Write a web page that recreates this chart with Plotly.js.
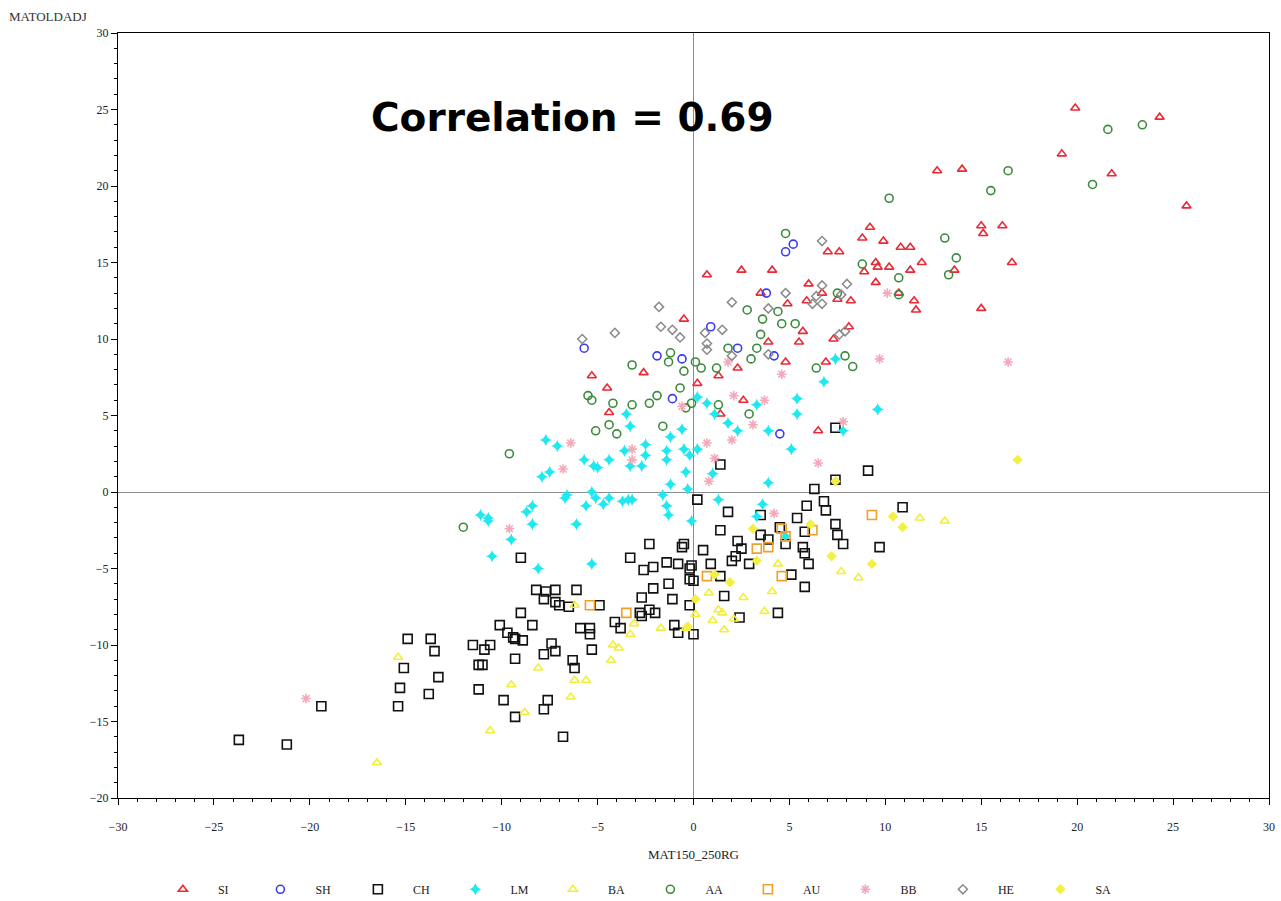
<!DOCTYPE html>
<html>
<head>
<meta charset="utf-8">
<script src="https://cdn.plot.ly/plotly-3.0.1.min.js"></script>
<style>html,body{margin:0;padding:0;background:#fff;}#chart{width:1281px;height:901px;}</style>
</head>
<body>
<div id="chart"></div>
<script>
// ---- Data (MAT150_250RG vs MATOLDADJ by group) ----
const groups = ["SI","SH","CH","LM","BA","AA","AU","BB","HE","SA"];

const siX = [19.9,24.3,19.2,21.8,25.7,12.7,14.0,15.0,16.1,15.1,16.6,15.0,9.2,8.8,9.9,7.0,7.6,10.8,11.3,11.9,11.3,9.5,9.6,10.2,8.9,9.5,13.6,10.7,11.5,11.6,0.7,2.5,4.1,6.0,6.7,4.9,5.9,7.5,8.2,8.1,5.7,5.5,7.3,3.9,4.8,6.9,2.3,1.3,2.6,1.4,6.5,3.5,-0.5,-5.3,-2.6,-4.5,0.2,-4.4];
const siY = [25.1,24.5,22.1,20.8,18.7,21.0,21.1,17.4,17.4,16.9,15.0,12.0,17.3,16.6,16.4,15.7,15.7,16.0,16.0,15.0,14.5,15.0,14.7,14.7,14.4,13.7,14.5,13.0,12.5,11.9,14.2,14.5,14.5,13.6,13.0,12.3,12.5,12.6,12.5,10.8,10.5,9.8,10.0,9.8,8.5,8.5,8.1,7.6,6.0,5.1,4.0,13.0,11.3,7.6,7.8,6.8,7.1,5.2];

const shX = [-5.7,-1.9,-0.6,-1.1,0.9,2.3,4.2,3.8,4.8,5.2,4.5];
const shY = [9.4,8.9,8.7,6.1,10.8,9.4,8.9,13.0,15.7,16.2,3.8];

const chX = [-23.7,-21.2,-19.4,-15.4,-15.3,-15.1,-14.9,-13.7,-13.5,-13.3,-13.8,-11.2,-11.5,-10.9,-10.6,-11.2,-11.0,-10.1,-9.7,-9.4,-9.3,-8.9,-9.0,-9.0,-8.4,-9.3,-9.9,-9.3,-7.8,-7.6,-7.4,-7.2,-7.8,-8.2,-7.7,-7.2,-7.8,-7.2,-7.0,-6.5,-6.1,-5.9,-5.4,-5.4,-5.3,-6.3,-6.2,-6.8,-4.9,-4.1,-3.8,-3.3,-2.6,-2.1,-2.7,-2.8,-2.7,-2.3,-2.0,-2.1,-1.3,-1.1,-1.0,-0.8,-2.3,-0.6,-0.5,-1.4,-0.8,-0.2,-0.1,-0.2,0.0,-0.2,0.0,0.5,0.9,1.4,1.6,2.4,0.2,1.4,1.8,1.4,2.3,2.5,2.2,2.0,2.9,3.5,3.5,3.9,4.5,4.8,5.1,4.4,5.8,5.7,5.8,6.0,5.8,5.9,5.4,6.3,6.8,6.9,7.4,7.5,7.8,7.4,9.1,9.7,10.9,7.4];
const chY = [-16.2,-16.5,-14.0,-14.0,-12.8,-11.5,-9.6,-9.6,-10.4,-12.1,-13.2,-12.9,-10.0,-10.3,-10.0,-11.3,-11.3,-8.7,-9.2,-9.5,-9.6,-9.7,-7.9,-4.3,-8.7,-10.9,-13.6,-14.7,-14.2,-13.6,-9.9,-10.4,-10.6,-6.4,-6.5,-6.4,-7.0,-7.2,-7.4,-7.5,-6.4,-8.9,-8.9,-9.3,-10.3,-11.0,-11.5,-16.0,-7.4,-8.5,-8.9,-4.3,-5.1,-4.9,-6.9,-7.9,-8.1,-7.7,-7.9,-6.3,-6.0,-7.0,-8.7,-9.2,-3.4,-3.6,-3.4,-4.6,-4.7,-5.0,-4.8,-5.7,-5.8,-7.4,-9.3,-3.8,-4.7,-5.5,-6.8,-8.2,-0.5,1.8,-1.3,-2.5,-3.2,-3.7,-4.2,-4.5,-4.7,-1.5,-2.8,-3.1,-2.3,-3.4,-5.4,-7.9,-2.6,-3.6,-4.0,-4.7,-6.2,-0.9,-1.7,0.2,-0.6,-1.2,-2.1,-2.8,-3.4,0.8,1.4,-3.6,-1.0,4.2];

const lmX = [-7.7,-7.1,-5.7,-5.2,-5.0,-4.4,-3.6,-3.3,-3.5,-2.5,-2.5,-2.7,-3.3,-1.4,-1.4,-1.2,-0.6,-0.5,-0.2,-0.4,-1.2,-0.3,0.2,0.7,1.1,0.2,1.3,-7.9,-7.5,-6.7,-6.6,-5.6,-5.3,-5.1,-4.7,-4.4,-3.7,-3.4,-3.2,-1.6,-1.4,-1.3,-0.1,-11.1,-10.7,-10.7,-8.7,-8.4,-8.4,-6.1,-9.5,-10.5,-8.1,-5.3,1.0,3.9,3.6,3.3,5.1,4.8,7.4,6.8,5.4,5.4,9.6,3.3,2.3,1.8,3.9,7.8];
const lmY = [3.4,3.0,2.1,1.7,1.6,2.1,2.7,4.3,5.1,3.1,2.4,1.7,1.7,2.7,2.1,3.6,4.1,2.8,2.4,1.3,0.5,0.2,6.2,5.8,5.1,2.8,-0.5,1.0,1.3,-0.4,-0.2,-0.9,0.0,-0.4,-0.8,-0.4,-0.6,-0.5,-0.5,-0.2,-0.9,-1.5,-1.9,-1.5,-1.7,-1.9,-1.3,-0.9,-2.1,-2.1,-3.1,-4.2,-5.0,-4.7,1.2,0.6,-0.8,-1.6,2.8,-2.9,8.7,7.2,6.1,5.1,5.4,5.7,4.0,4.5,4.0,4.0];

const baX = [-15.4,-16.5,-10.6,-9.5,-8.8,-8.1,-6.4,-6.2,-5.6,-4.3,-4.2,-3.9,-3.3,-3.1,-6.2,-1.7,-0.4,0.1,0.8,1.3,1.5,1.0,1.6,2.1,2.6,4.1,3.7,4.4,7.7,8.6,11.8,13.1];
const baY = [-10.8,-17.7,-15.6,-12.6,-14.4,-11.5,-13.4,-12.3,-12.3,-11.0,-10.0,-10.2,-9.3,-8.6,-7.4,-8.9,-8.9,-8.0,-6.6,-7.7,-7.9,-8.4,-9.0,-8.3,-6.9,-6.5,-7.8,-4.7,-5.2,-5.6,-1.7,-1.9];

const aaX = [21.6,23.4,20.8,16.4,15.5,10.2,13.1,13.7,13.3,10.7,10.7,8.8,4.8,7.5,2.8,4.4,3.6,4.6,5.3,3.5,3.3,3.0,1.8,1.2,0.4,7.9,8.3,6.4,1.3,2.9,0.1,-1.2,-1.3,-0.5,-3.2,-0.7,-5.5,-5.3,-4.2,-3.2,-2.3,-1.9,-0.1,-0.4,-5.1,-4.4,-4.0,-1.6,-9.6,-12.0];
const aaY = [23.7,24.0,20.1,21.0,19.7,19.2,16.6,15.3,14.2,14.0,12.9,14.9,16.9,13.0,11.9,11.8,11.3,11.0,11.0,10.3,9.4,8.7,9.4,8.1,8.1,8.9,8.2,8.1,5.7,5.1,8.5,9.1,8.5,7.9,8.3,6.8,6.3,6.0,5.8,5.7,5.8,6.3,5.8,5.5,4.0,4.4,3.8,4.3,2.5,-2.3];

const auX = [9.3,6.2,4.8,4.6,3.3,3.9,4.6,0.7,-5.4,-3.5];
const auY = [-1.5,-2.5,-2.9,-2.4,-3.7,-3.6,-5.5,-5.5,-7.4,-7.9];

const bbX = [-6.4,-6.8,-3.2,-3.2,-0.6,0.7,1.1,0.8,-9.6,-20.2,6.5,4.2,4.6,2.1,3.7,3.1,7.8,9.7,10.1,16.4,2.0,1.8];
const bbY = [3.2,1.5,2.8,2.1,5.6,3.2,2.2,0.7,-2.4,-13.5,1.9,-1.4,7.7,6.3,6.0,4.4,4.6,8.7,13.0,8.5,3.4,8.5];

const heX = [-1.8,-5.8,-4.1,-1.7,-1.1,-0.7,0.6,0.7,0.7,1.5,2.0,3.9,4.8,6.7,6.7,6.4,6.2,6.7,8.0,7.7,7.6,7.9,3.9,2.0];
const heY = [12.1,10.0,10.4,10.8,10.6,10.1,10.4,9.7,9.3,10.6,12.4,12.0,13.0,16.4,13.5,12.8,12.3,12.3,13.6,12.9,10.3,10.5,9.0,8.9];

const saX = [16.9,10.4,10.9,9.3,7.2,6.1,3.1,1.9,1.1,0.1,-0.3,3.3,7.4];
const saY = [2.1,-1.6,-2.3,-4.7,-4.2,-2.1,-2.4,-5.9,-5.4,-7.0,-8.8,-4.5,0.7];

const correlationText = "Correlation = 0.69";
const xTitle = "MAT150_250RG";
const yTitle = "MATOLDADJ";

// ---- Styles ----
const styles = {
  SI: {symbol:"triangle-up-open", color:"#ea2a36", size:8, lw:1.6},
  SH: {symbol:"circle-open", color:"#3b3bf0", size:8, lw:1.6},
  CH: {symbol:"square-open", color:"#111111", size:9, lw:1.6},
  LM: {symbol:"star-diamond", color:"#1ee8f0", size:9, lw:0},
  BA: {symbol:"triangle-up-open", color:"#f2ee3a", size:8, lw:1.6},
  AA: {symbol:"circle-open", color:"#3c8a3c", size:8, lw:1.6},
  AU: {symbol:"square-open", color:"#f0a028", size:9, lw:1.6},
  BB: {symbol:"asterisk-open", color:"#f4a9bb", size:8, lw:1.6},
  HE: {symbol:"diamond-open", color:"#8a8a8a", size:7, lw:1.5},
  SA: {symbol:"diamond", color:"#f2f044", size:8, lw:0}
};
const dataMap = {
  SI:[siX,siY], SH:[shX,shY], CH:[chX,chY], LM:[lmX,lmY], BA:[baX,baY],
  AA:[aaX,aaY], AU:[auX,auY], BB:[bbX,bbY], HE:[heX,heY], SA:[saX,saY]
};

const traces = groups.map(g => {
  const s = styles[g];
  const marker = {symbol:s.symbol, size:s.size, color:s.color};
  if (s.lw > 0) marker.line = {color:s.color, width:s.lw};
  return {
    type:"scatter", mode:"markers", name:g,
    x:dataMap[g][0], y:dataMap[g][1],
    marker: marker, cliponaxis: true
  };
});

const serif = "Liberation Serif, Times New Roman, serif";
const axisCommon = {
  showline:true, linecolor:"#000", linewidth:1, mirror:true,
  ticks:"outside", ticklen:6, tickwidth:1, tickcolor:"#000",
  showgrid:false, zeroline:true, zerolinecolor:"#8c8c8c", zerolinewidth:1,
  tickfont:{family:serif, size:12, color:"#222"},
  minor:{dtick:1, ticks:"outside", ticklen:3, tickwidth:1, tickcolor:"#000", showgrid:false},
  fixedrange:true
};

const layout = {
  width:1281, height:901,
  paper_bgcolor:"#fff", plot_bgcolor:"#fff",
  margin:{l:118, r:12, t:33, b:103},
  xaxis: Object.assign({}, axisCommon, {
    range:[-30,30], autorange:false, tick0:0, dtick:5,
    ticklabelstandoff:12,
    title:{text:xTitle, font:{family:serif, size:13, color:"#222"}, standoff:16}
  }),
  yaxis: Object.assign({}, axisCommon, {
    range:[-20,30], autorange:false, tick0:0, dtick:5
  }),
  showlegend:true,
  legend:{
    orientation:"h", xref:"container", yref:"container",
    x:0.496, xanchor:"center", y:0.013, yanchor:"middle",
    font:{family:serif, size:12, color:"#222"},
    entrywidth:22.5, entrywidthmode:"pixels",
    itemwidth:60, bgcolor:"rgba(0,0,0,0)"
  },
  annotations:[
    {text:"<b>"+correlationText+"</b>", xref:"paper", yref:"paper", x:0.395, y:0.889,
     xanchor:"center", yanchor:"middle", showarrow:false,
     font:{family:"DejaVu Sans, Verdana, sans-serif", size:39, color:"#000"}},
    {text:yTitle, xref:"paper", yref:"paper", x:-0.061, y:1.021,
     xanchor:"center", yanchor:"middle", showarrow:false,
     font:{family:serif, size:13, color:"#333"}}
  ]
};

Plotly.newPlot("chart", traces, layout, {displayModeBar:false, staticPlot:true});
</script>
</body>
</html>
